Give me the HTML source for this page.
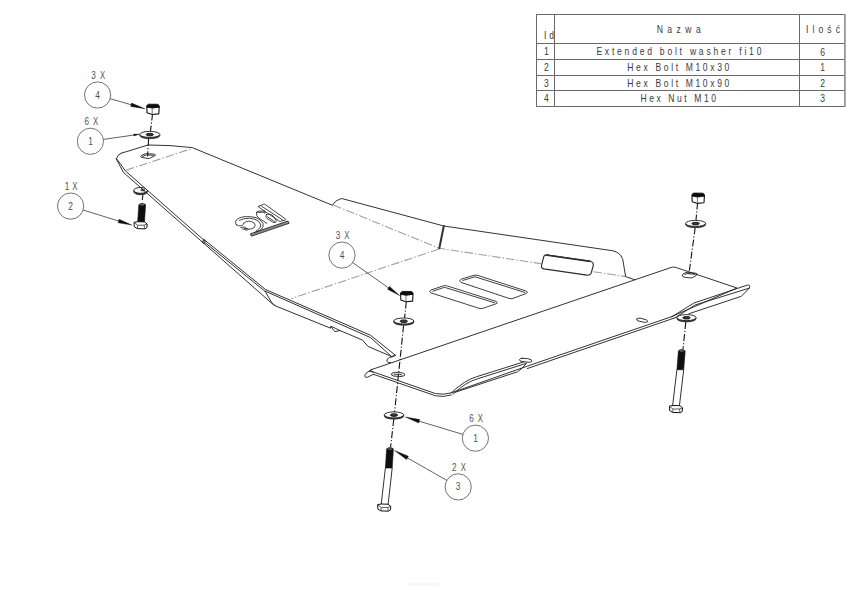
<!DOCTYPE html>
<html><head><meta charset="utf-8">
<style>
html,body{margin:0;padding:0;background:#fff;}
body{width:850px;height:600px;overflow:hidden;}
svg{display:block;}
text{font-family:"Liberation Sans",sans-serif;}
</style></head>
<body>
<svg width="850" height="600" viewBox="0 0 850 600">
<rect width="850" height="600" fill="#fff"/>

<!-- ============ TABLE ============ -->
<g id="table" stroke="#6a6a6a" stroke-width="1" fill="none" shape-rendering="crispEdges">
  <line x1="536.5" y1="14.5" x2="844.5" y2="14.5"/>
  <line x1="536.5" y1="106.5" x2="844.5" y2="106.5"/>
  <line x1="536.5" y1="14" x2="536.5" y2="107"/>
  <line x1="554.5" y1="14" x2="554.5" y2="107"/>
  <line x1="799.5" y1="14" x2="799.5" y2="107"/>
  <line x1="536.5" y1="43.5" x2="844.5" y2="43.5"/>
  <line x1="536.5" y1="59.5" x2="844.5" y2="59.5"/>
  <line x1="536.5" y1="75.5" x2="844.5" y2="75.5"/>
  <line x1="536.5" y1="90.5" x2="844.5" y2="90.5"/>
</g>
<line x1="844.9" y1="14" x2="844.9" y2="107" stroke="#8c8c8c" stroke-width="1.6"/>
<g id="tabletext" fill="#3a3a3a" font-size="10.2">
  <text transform="translate(544,39.3) scale(0.84,1)" textLength="11.90" lengthAdjust="spacing">Id</text>
  <text transform="translate(656.7,33.1) scale(0.84,1)" textLength="52.38" lengthAdjust="spacing">Nazwa</text>
  <text transform="translate(806,32.5) scale(0.84,1)" textLength="40.48" lengthAdjust="spacing">Ilość</text>
  <text transform="translate(596.4,55.3) scale(0.84,1)" textLength="196.43" lengthAdjust="spacing">Extended bolt washer fi10</text>
  <text transform="translate(627.3,71.2) scale(0.84,1)" textLength="121.43" lengthAdjust="spacing">Hex Bolt M10x30</text>
  <text transform="translate(627.3,86.8) scale(0.84,1)" textLength="121.43" lengthAdjust="spacing">Hex Bolt M10x90</text>
  <text transform="translate(640.5,102.3) scale(0.84,1)" textLength="89.88" lengthAdjust="spacing">Hex Nut M10</text>
  <text transform="translate(546.3,55.3) scale(0.84,1)" text-anchor="middle">1</text>
  <text transform="translate(546.3,71.2) scale(0.84,1)" text-anchor="middle">2</text>
  <text transform="translate(546.3,86.8) scale(0.84,1)" text-anchor="middle">3</text>
  <text transform="translate(546.3,102.3) scale(0.84,1)" text-anchor="middle">4</text>
  <text transform="translate(822.5,55.5) scale(0.84,1)" text-anchor="middle">6</text>
  <text transform="translate(822.5,71.2) scale(0.84,1)" text-anchor="middle">1</text>
  <text transform="translate(822.5,86.8) scale(0.84,1)" text-anchor="middle">2</text>
  <text transform="translate(822.5,102.3) scale(0.84,1)" text-anchor="middle">3</text>
</g>

<!-- ============ CENTER / BEND LINES (dash-dot) ============ -->
<g stroke="#a0a0a0" stroke-width="1.1" fill="none" stroke-dasharray="8.5 2 1.5 2">
  <!-- bend line top-left -->
  <line x1="125.8" y1="170.3" x2="192" y2="148.5"/>
  <!-- back wall bend -->
  <polyline points="333.3,205 439.2,248.3 541.5,263.8"/>
  <line x1="593.5" y1="271.7" x2="625.9" y2="276.6"/>
  <!-- fold line across plate -->
  <line x1="439" y1="249" x2="291.3" y2="298.6"/>
</g>

<!-- washer under plate -->
<defs><clipPath id="cw2"><path d="M100,148.5 L170,210.2 L170,240 L100,240 Z"/></clipPath></defs>
<g clip-path="url(#cw2)">
  <g transform="translate(140.6,190.4)">
    <path d="M-6.8,0 v1.4 a6.8,2.9 0 0 0 13.6,0 v-1.4" fill="#333" stroke="#111" stroke-width="0.8"/>
    <ellipse cx="0" cy="0" rx="6.8" ry="2.9" fill="#fff" stroke="#111" stroke-width="0.9"/>
    <ellipse cx="2.2" cy="-0.3" rx="2.2" ry="0.9" fill="#555" stroke="#222" stroke-width="0.6"/>
  </g>
</g>
<!-- ============ MAIN PLATE ============ -->
<g stroke="#272727" stroke-width="0.95" fill="none" stroke-linejoin="round" stroke-linecap="round">
  <!-- top edge -->
  <path d="M121,153.3 L148,145 L170,145.6 L192.2,147.6 L332.5,205.3 Q335,200.5 341.7,198.5 L443.8,226 L613,250.8 Q617.5,251.8 620.5,255 L622.8,259.5 L625.6,276.6 L635.5,280"/>
  <!-- rounded top-left corner and left edge -->
  <path d="M121,153.3 Q117,155 116.3,159"/>
  <path d="M116.3,159 L123.5,172.5 L204,243.5 L272,303.5 L275,305.7 L330.6,328.2 L330.8,326.3 L334,327.6 L340,330.6 L362.4,340 L368.2,346.5 L389.4,355.6 L391.4,356.4 L395.6,355.4"/>
  <path d="M117.3,159.6 L125.5,171 L204,240.2"/>
  <path d="M204,239.5 L265.5,289.5 L370.6,335.3 L395.6,355.4"/>
  <path d="M203.5,241.4 L264.4,290.8 L370.6,337.6 L391.4,356.4"/>
  <path d="M265,291 L271.3,302 L275,305.7"/>
  <path d="M330.8,326.3 L334.8,331.6 L340,330.6"/>
  <path d="M202.5,241.5 L204,239.5 L205.3,241.2 L204,243.5 Z"/>
  <path d="M394,356.3 L389.5,357.6 Q386.4,358.8 386.8,361.2 Q387.6,363 390.6,362.6"/>
  <!-- wall fold thick edge -->
  <line x1="443.8" y1="226" x2="439.3" y2="248.2" stroke-width="2" stroke="#333"/>
</g>

<!-- logo -->
<g stroke="#262626" stroke-width="0.85" fill="none" stroke-linejoin="round" stroke-linecap="round">
  <!-- stem -->
  <path d="M258.6,206.3 L263.6,204.3 Q264.4,204 265.2,204.5 L285.4,218.9 Q286.1,219.7 285.1,220.1 L280.7,221.3 Q279.8,221.5 279.1,221 L258.7,207.1 Q258.1,206.6 258.6,206.3 Z"/>
  <path d="M261.6,206.2 L283.3,220.4"/>
  <!-- bottom bar -->
  <path d="M251,233.6 L288,221 L289.2,223.3 L252,236 Z" fill="#8a8a8a"/>
  <path d="M251,233.6 Q249.8,234.6 251.2,235.8"/>
  <!-- P cap and bowl -->
  <path d="M256.4,212.6 Q256.6,211.4 258,211.2 L264.6,211 Q265.8,211.3 265.3,212.6 L264.8,213.4"/>
  <path d="M257.6,212.4 L264.6,212.2"/>
  <path d="M256.4,212.6 L256.8,215.6 Q257.4,217.3 259.4,218.4 L266.8,223.4"/>
  <path d="M266.7,214.6 Q267.8,214.2 269.6,214.3 Q271.5,214.5 273,215.8 L276.3,220.6 Q276.6,222 275,222.5 Q273.8,222.8 272.5,222 L266.8,218.3 Q265.7,217.3 265.9,215.9 Q266.1,214.9 266.7,214.6 Z"/>
  <path d="M267.5,216.8 L274.5,221.6"/>
  <!-- G -->
  <path d="M236.2,224.8 Q234.3,222.3 236.5,219.8 Q239,217.3 244,216.7 Q251,216.2 256,217.6 Q261,219.5 263,223.3 Q264,227 261.3,229.5 Q258.5,231.8 254.5,232.4"/>
  <path d="M239.4,220.3 Q243.5,218.3 249.5,218.2 Q255.5,218.6 258.8,221.4 Q261.3,224.2 260.4,227 Q259,229.6 256.5,230.7"/>
  <path d="M236.2,224.8 Q238.5,226.3 241.8,225.8 Q243.3,225.2 243.7,223.2"/>
  <path d="M243.7,223.2 Q245.5,221.4 248.5,221.2 Q252,221.1 254.4,223.2 Q256,225.4 254.2,227.6 Q252,229.3 248.3,229.2 L244.5,228.5"/>
  <path d="M240.9,227.6 L244,227 L248.3,229.2 M242.5,228.9 L247,230.2"/>
</g>
<!-- ============ FRONT PLATE ============ -->
<g stroke="#272727" stroke-width="0.95" fill="#fff" stroke-linejoin="round" stroke-linecap="round">
  <!-- plate top surface -->
  <path d="M371.5,369.6 L671,267.5 Q673.5,266.5 676,267.5 L737,288 L671.2,316.8 L527.4,366.1 L451.2,392.9 Q443,395 435.5,393.6 L373.4,372 Q369,370.5 371.5,369.6 Z"/>
</g>
<g stroke="#272727" stroke-width="0.95" fill="none" stroke-linejoin="round" stroke-linecap="round">
  <!-- front edge double lines -->
  <path d="M527.4,368.5 L675,317.8"/>
  <path d="M373.4,374.3 L435.5,395.8 Q443,397.5 451.2,395"/>
  <!-- left tip -->
  <path d="M371.2,369.6 L366.2,373.2 Q364.5,374.8 364.9,376.6 Q365.6,377.8 367.5,377.2 L373.4,374.3"/>
  <path d="M369.3,371.4 L373.4,372"/>
  <!-- middle flange -->
  <path d="M451.2,392.9 Q465,380 476.6,376.7 L526,361.2"/>
  <path d="M453,394 Q466,382 477.5,378.8 L526.5,363.3"/>
  <path d="M455.4,392.2 L517.5,371.8 Q523,368 526,364"/>
  <path d="M522,358.3 L527.5,358.6 Q532.5,359.5 531.8,361.2 Q531,362.4 528.5,362.2 L522,361.5 Q519.3,361 519.4,359.7 Q519.8,358.4 522,358.3 Z" fill="#fff"/>
  <!-- right flange -->
  <path d="M671.6,316.9 L693.8,303.1 L747.5,285 Q750.6,284.6 749.4,288.1 L741.3,296.3 L688.8,313.8"/>
  <path d="M675,317.8 L695,305 L749.4,288.1"/>
  <!-- slot hole near right -->
  <path d="M637,318.8 Q638.5,317.8 641,318.3 L646.5,320 Q648.6,321 647.2,322 Q645.8,322.7 643.5,322.2 L637.8,320.8 Q635.6,320 637,318.8 Z"/>
</g>

<!-- slots on plate -->
<g stroke="#2b2b2b" stroke-width="0.9" fill="none" stroke-linejoin="round">
  <path d="M461,279.2 L474,275.3 Q476,274.8 478,275.5 L526,291 Q529,292.5 526,293.5 L513,298.4 Q511,299 509,298.4 L461,282.4 Q458,281 461,279.2 Z"/>
  <path d="M462.5,280.5 L475,276.8 L525,292.5"/>
  <path d="M431,290 L443.5,285.8 Q445.5,285.3 447.5,286 L496,301.4 Q499,302.8 496,303.8 L483,308.3 Q481,308.8 479,308.3 L431,292.9 Q428,291.4 431,290 Z"/>
  <path d="M432.5,291.3 L444.5,287.3 L495,302.9"/>
  <!-- rounded slot in back wall -->
  <path d="M546.5,254.8 L590,261.2 Q593.8,262.2 593.3,265.5 L591.2,273 Q590,275.6 587,275.1 L543.8,268.9 Q540.8,268.2 541.6,265.2 L543.5,257.5 Q544.2,254.6 546.5,254.8 Z" stroke-width="1.1"/>
  <path d="M545.5,255 L590.5,261.4" stroke-width="1.7"/>
</g>

<!-- ============ HARDWARE ============ -->
<!-- axis lines -->
<g stroke="#111" stroke-width="1.1" fill="none" stroke-dasharray="7 2 1.2 2">
  <line x1="152.6" y1="113.5" x2="150.5" y2="131"/>
  <line x1="148.6" y1="139" x2="147.6" y2="156.5"/>
  <line x1="142.9" y1="195" x2="142.3" y2="200"/>
  <line x1="406.3" y1="301.5" x2="404.6" y2="318"/>
  <line x1="403.6" y1="325.5" x2="394.6" y2="412"/>
  <line x1="393.8" y1="419" x2="390.6" y2="447"/>
  <line x1="697.6" y1="202.5" x2="696" y2="220"/>
  <line x1="695.2" y1="227.5" x2="688.8" y2="275"/>
  <line x1="691.5" y1="255" x2="691.5" y2="255"/>
  <line x1="685.8" y1="322" x2="683" y2="349"/>
</g>
<g stroke="#1e1e1e" stroke-width="0.9" fill="#fff" stroke-linejoin="round">
  <!-- slots in plates -->
  <path d="M141,155.8 L145,153.9 Q145.8,153.6 147,153.7 L154.3,154.2 Q156.4,154.7 155,155.6 L150.6,157.9 Q149.6,158.6 148,158.5 L141.8,157.4 Q139.8,156.8 141,155.8 Z" fill="none"/>
  <path d="M142.5,156.5 L146.5,154.8 L153.5,155.3" fill="none"/>
  <path d="M683,273.9 L686,272.6 Q687,272.3 688.5,272.4 L695.5,273.2 Q698.2,273.8 696.6,275.2 L693.4,277.2 Q692.2,278 690.5,277.9 L684,277.2 Q681,276.4 683,273.9 Z" fill="none"/>
  <path d="M684.6,274.6 L687,273.6 L695,274.3" fill="none"/>
  <path d="M391.8,373.4 Q393,372.3 395.5,372.3 L402.5,372.9 Q405.6,373.6 404.6,375.3 Q403.3,376.6 399.8,376.5 L393.5,376 Q390.5,375.3 391.8,373.4 Z" fill="none"/>
  <path d="M393.5,374.2 L399.5,374.3 Q402,374.6 402.5,375.6" fill="none"/>
</g>
<g id="hw">
  <g>
    <path d="M146.8,106.7 L147.0,112.8 L152.2,114.5 L158.8,113.9 L159.2,106.9 Z" fill="#fff" stroke="#111" stroke-width="1.1" stroke-linejoin="round"/>
    <line x1="152.2" y1="108.3" x2="152.2" y2="114.4" stroke="#666" stroke-width="0.9"/>
    <path d="M146.8,105.5 L148.6,104.2 L157.6,104.3 L159.2,105.6 L159.2,107.1 L152.2,108.1 L146.8,107.0 Z" fill="#0d0d0d" stroke="#0d0d0d" stroke-width="0.9" stroke-linejoin="round"/>
  </g>
  <g>
    <path d="M400.6,293.9 L400.8,300.0 L406.0,301.7 L412.6,301.1 L413.0,294.1 Z" fill="#fff" stroke="#111" stroke-width="1.1" stroke-linejoin="round"/>
    <line x1="406.0" y1="295.5" x2="406.0" y2="301.6" stroke="#666" stroke-width="0.9"/>
    <path d="M400.6,292.7 L402.4,291.4 L411.4,291.5 L413.0,292.8 L413.0,294.3 L406.0,295.3 L400.6,294.2 Z" fill="#0d0d0d" stroke="#0d0d0d" stroke-width="0.9" stroke-linejoin="round"/>
  </g>
  <g>
    <path d="M692.0,195.6 L692.2,201.7 L697.4,203.4 L704.0,202.8 L704.4,195.8 Z" fill="#fff" stroke="#111" stroke-width="1.1" stroke-linejoin="round"/>
    <line x1="697.4" y1="197.2" x2="697.4" y2="203.3" stroke="#666" stroke-width="0.9"/>
    <path d="M692.0,194.4 L693.8,193.1 L702.8,193.2 L704.4,194.5 L704.4,196.0 L697.4,197.0 L692.0,195.9 Z" fill="#0d0d0d" stroke="#0d0d0d" stroke-width="0.9" stroke-linejoin="round"/>
  </g>
  <g transform="translate(149.8,134.4)">
    <path d="M-10.0,0 v1.2 a10.0,3.0 0 0 0 20.0,0 v-1.2" fill="#555" stroke="#151515" stroke-width="0.8"/>
    <ellipse cx="0" cy="0" rx="10.0" ry="3.0" fill="#fff" stroke="#111" stroke-width="0.85"/>
    <ellipse cx="0" cy="0.2" rx="3.7" ry="1.3" fill="#3a3a3a" stroke="#111" stroke-width="0.9"/>
  </g>
  <g transform="translate(403.8,321.0)">
    <path d="M-10.0,0 v1.2 a10.0,3.0 0 0 0 20.0,0 v-1.2" fill="#555" stroke="#151515" stroke-width="0.8"/>
    <ellipse cx="0" cy="0" rx="10.0" ry="3.0" fill="#fff" stroke="#111" stroke-width="0.85"/>
    <ellipse cx="0" cy="0.2" rx="3.7" ry="1.3" fill="#3a3a3a" stroke="#111" stroke-width="0.9"/>
  </g>
  <g transform="translate(695.6,223.4)">
    <path d="M-10.0,0 v1.2 a10.0,3.0 0 0 0 20.0,0 v-1.2" fill="#555" stroke="#151515" stroke-width="0.8"/>
    <ellipse cx="0" cy="0" rx="10.0" ry="3.0" fill="#fff" stroke="#111" stroke-width="0.85"/>
    <ellipse cx="0" cy="0.2" rx="3.7" ry="1.3" fill="#3a3a3a" stroke="#111" stroke-width="0.9"/>
  </g>
  <g transform="translate(394.0,414.9)">
    <path d="M-9.7,0 v1.2 a9.7,3.0 0 0 0 19.4,0 v-1.2" fill="#555" stroke="#151515" stroke-width="0.8"/>
    <ellipse cx="0" cy="0" rx="9.7" ry="3.0" fill="#fff" stroke="#111" stroke-width="0.85"/>
    <ellipse cx="0" cy="0.2" rx="3.7" ry="1.3" fill="#3a3a3a" stroke="#111" stroke-width="0.9"/>
  </g>
  <g transform="translate(686.5,317.6)">
    <path d="M-9.5,0 v1.2 a9.5,3.0 0 0 0 19.0,0 v-1.2" fill="#555" stroke="#151515" stroke-width="0.8"/>
    <ellipse cx="0" cy="0" rx="9.5" ry="3.0" fill="#fff" stroke="#111" stroke-width="0.85"/>
    <ellipse cx="0" cy="0.2" rx="3.7" ry="1.3" fill="#3a3a3a" stroke="#111" stroke-width="0.9"/>
  </g>
  <g>
    <path d="M138.8,204.9 Q139.1,203.4 142.2,203.4 Q145.3,203.4 145.6,204.9 L144.4,222.5 L137.6,222.5 Z" fill="#0f0f0f" stroke="#0f0f0f" stroke-width="0.6"/>
    <path d="M140.1,204.8 L144.1,204.9" stroke="#aaa" stroke-width="0.8" fill="none"/>
    <path d="M137.6,222.5 L137.6,222.1 M144.4,222.5 L144.4,222.1" fill="none" stroke="#1a1a1a" stroke-width="0.9"/>
    <path d="M134.0,222.3 L137.6,221.7 L144.5,221.9 L147.2,224.1 L146.8,227.7 L144.8,228.9 L137.3,228.6 L134.3,226.8 Z" fill="#fff" stroke="#111" stroke-width="1"/>
    <path d="M134.0,222.3 L137.6,225.3 L144.2,225.1 L147.2,224.1 M137.6,225.3 L137.3,228.6 M144.2,225.1 L144.5,228.8" fill="none" stroke="#333" stroke-width="0.8"/>
  </g>
  <g>
    <path d="M386.6,449.1 Q386.9,447.6 390.0,447.6 Q393.1,447.6 393.4,449.1 L392.2,468.0 L385.4,468.0 Z" fill="#0f0f0f" stroke="#0f0f0f" stroke-width="0.6"/>
    <path d="M387.9,449.0 L391.9,449.1" stroke="#aaa" stroke-width="0.8" fill="none"/>
    <path d="M385.4,468.0 L381.2,504.4 M392.2,468.0 L388.1,504.4" fill="none" stroke="#1a1a1a" stroke-width="0.9"/>
    <path d="M377.6,504.6 L381.2,504.0 L388.1,504.2 L390.8,506.4 L390.4,510.0 L388.4,511.2 L380.9,510.9 L377.9,509.1 Z" fill="#fff" stroke="#111" stroke-width="1"/>
    <path d="M377.6,504.6 L381.2,507.6 L387.8,507.4 L390.8,506.4 M381.2,507.6 L380.9,510.9 M387.8,507.4 L388.1,511.1" fill="none" stroke="#333" stroke-width="0.8"/>
  </g>
  <g>
    <path d="M678.4,351.0 Q678.7,349.5 681.8,349.5 Q684.9,349.5 685.2,351.0 L683.7,369.8 L676.9,369.8 Z" fill="#0f0f0f" stroke="#0f0f0f" stroke-width="0.6"/>
    <path d="M679.7,350.9 L683.7,351.0" stroke="#aaa" stroke-width="0.8" fill="none"/>
    <path d="M676.9,369.8 L672.6,405.9 M683.7,369.8 L679.4,405.9" fill="none" stroke="#1a1a1a" stroke-width="0.9"/>
    <path d="M669.4,406.1 L673.0,405.5 L679.9,405.7 L682.6,407.9 L682.2,411.5 L680.2,412.7 L672.7,412.4 L669.7,410.6 Z" fill="#fff" stroke="#111" stroke-width="1"/>
    <path d="M669.4,406.1 L673.0,409.1 L679.6,408.9 L682.6,407.9 M673.0,409.1 L672.7,412.4 M679.6,408.9 L679.9,412.6" fill="none" stroke="#333" stroke-width="0.8"/>
  </g>
</g>

<!-- ============ BALLOONS ============ -->
<g stroke="#5a5a5a" stroke-width="0.85" fill="none">
  <circle cx="97.6" cy="95.0" r="13.1"/>
  <circle cx="90.4" cy="141.3" r="13.1"/>
  <circle cx="70.6" cy="206.1" r="13.1"/>
  <circle cx="342.0" cy="255.1" r="13.1"/>
  <circle cx="475.4" cy="438.2" r="13.1"/>
  <circle cx="458.2" cy="486.9" r="13.1"/>
</g>
<!-- leaders -->
<g stroke="#3a3a3a" stroke-width="0.8" fill="none">
  <line x1="110.2" y1="98.7" x2="132.1" y2="105.0"/>
  <line x1="103.4" y1="139.4" x2="134.8" y2="134.9"/>
  <line x1="83.1" y1="210.0" x2="119.6" y2="221.3"/>
  <line x1="352.7" y1="262.6" x2="389.3" y2="288.4"/>
  <line x1="462.9" y1="434.4" x2="418.2" y2="420.9"/>
  <line x1="446.8" y1="480.4" x2="406.6" y2="457.4"/>
</g>
<g fill="#0d0d0d" stroke="#0d0d0d" stroke-width="0.4" stroke-linejoin="round">
  <path d="M144.8,108.7 L130.7,106.4 L131.6,103.1 Z"/>
  <path d="M139.2,134.3 L134.0,136.0 L133.7,134.1 Z"/>
  <path d="M131.8,225.1 L118.1,222.7 L119.1,219.3 Z"/>
  <path d="M399.6,295.6 L387.5,289.2 L389.5,286.4 Z"/>
  <path d="M405.4,417.0 L419.7,419.5 L418.7,422.9 Z"/>
  <path d="M394.6,450.6 L408.4,456.2 L406.5,459.6 Z"/>
</g>
<g fill="#505050" font-size="10.2" text-anchor="middle">
  <text transform="translate(97.60,98.55) scale(0.82,1)">4</text>
  <text transform="translate(93.60,78.6) scale(0.8,1)">3</text>
  <text transform="translate(102.55,78.6) scale(0.76,1)">X</text>
  <text transform="translate(90.70,144.85) scale(0.82,1)">1</text>
  <text transform="translate(86.75,125.2) scale(0.8,1)">6</text>
  <text transform="translate(95.55,125.2) scale(0.76,1)">X</text>
  <text transform="translate(70.60,209.65) scale(0.82,1)">2</text>
  <text transform="translate(67.00,189.8) scale(0.8,1)">1</text>
  <text transform="translate(74.90,189.8) scale(0.76,1)">X</text>
  <text transform="translate(342.00,258.65) scale(0.82,1)">4</text>
  <text transform="translate(337.95,238.6) scale(0.8,1)">3</text>
  <text transform="translate(346.75,238.6) scale(0.76,1)">X</text>
  <text transform="translate(475.70,441.75) scale(0.82,1)">1</text>
  <text transform="translate(471.45,421.8) scale(0.8,1)">6</text>
  <text transform="translate(480.40,421.8) scale(0.76,1)">X</text>
  <text transform="translate(458.20,490.45) scale(0.82,1)">3</text>
  <text transform="translate(454.15,470.6) scale(0.8,1)">2</text>
  <text transform="translate(463.40,470.6) scale(0.76,1)">X</text>
</g>
<text x="408.3" y="585.6" font-size="6" fill="#eeeeee" textLength="32.5" lengthAdjust="spacingAndGlyphs">sootshop</text>
</svg>
</body></html>
